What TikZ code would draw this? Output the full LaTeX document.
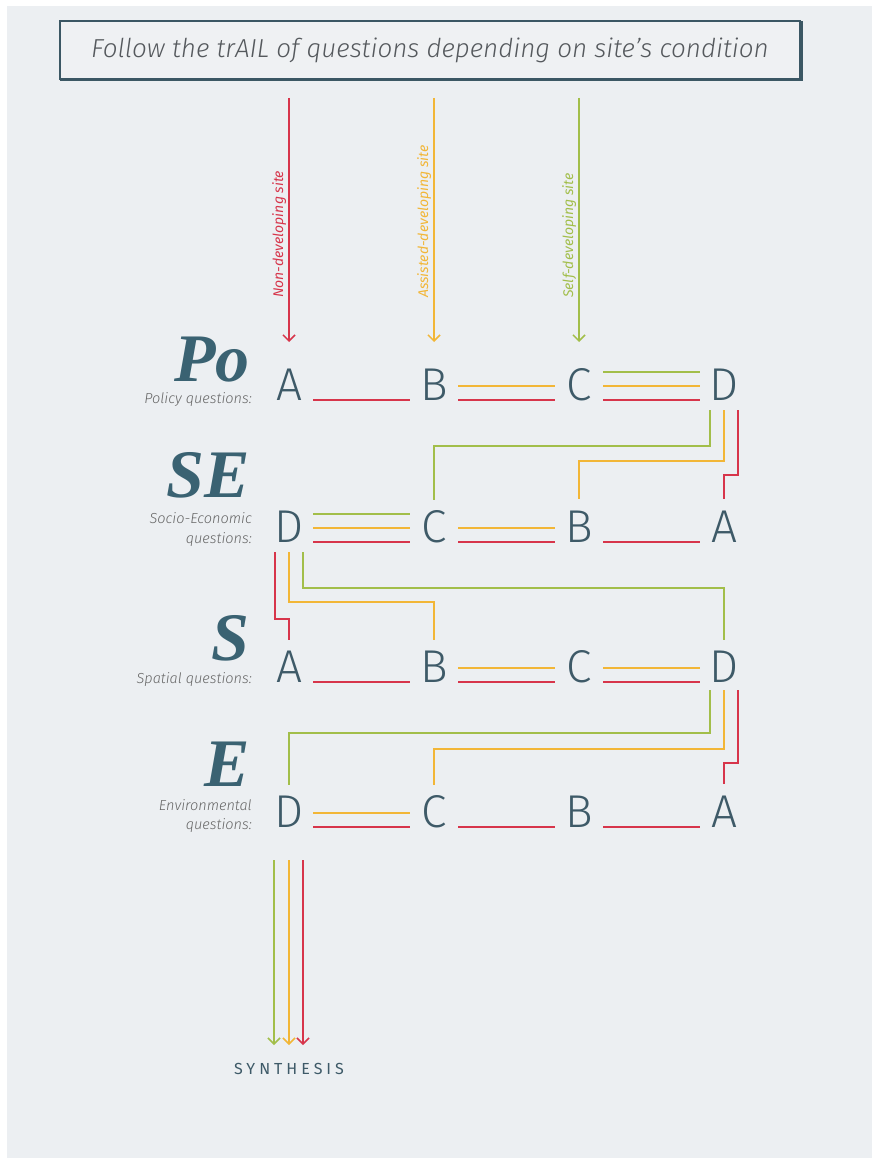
\documentclass[tikz,border=0pt]{standalone}
\usepackage{fontspec}
\usetikzlibrary{calc,arrows.meta}
\setmainfont{Fira Sans Light}[ItalicFont={Fira Sans Light Italic}]
\newfontfamily\serifbig{Liberation Serif}
\newfontfamily\regsans{Fira Sans}
\newfontfamily\synfont{Fira Sans}[LetterSpace=25]
\definecolor{bg}{HTML}{ECEFF2}
\definecolor{boxbg}{HTML}{EFF1F3}
\definecolor{cred}{HTML}{D7354B}
\definecolor{cyel}{HTML}{F2B637}
\definecolor{cgrn}{HTML}{A2BE4A}
\definecolor{letter}{HTML}{3E5A68}
\definecolor{big}{HTML}{3A6272}
\definecolor{small}{HTML}{666666}
\definecolor{frame}{HTML}{3B5764}
\definecolor{ttl}{HTML}{55595D}
\tikzset{
  lt/.style={font=\fontsize{46}{46}\selectfont, text=letter, inner sep=0pt, anchor=center},
  biglab/.style={font=\serifbig\bfseries\itshape\fontsize{68}{68}\selectfont, text=big, inner sep=0pt, text depth=0pt, anchor=base east},
  smalllab/.style={font=\itshape\fontsize{14.5}{14.5}\selectfont, text=small, inner sep=0pt, anchor=base east},
  sitelab/.style={font=\regsans\itshape\fontsize{14}{14}\selectfont, inner sep=0pt, rotate=90, anchor=base west},
  conn/.style={line width=1.7pt},
  rd/.style={conn, draw=cred},
  yl/.style={conn, draw=cyel},
  gn/.style={conn, draw=cgrn},
  arr/.style={-{Straight Barb[length=6pt,width=12pt,line width=1.5pt]}, line width=1.5pt},
}
\newcommand{\hsg}[4]{\draw[#1] ($(#2)+(24,#4)$) -- ($(#3)+(-24,#4)$);}
\begin{document}
\begin{tikzpicture}[x=1pt,y=-1pt]
\useasboundingbox (0,0) rectangle (872,1158);
\fill[white] (0,0) rectangle (872,1158);
\fill[bg] (7,6) rectangle (872,1158);

% title box
\node[draw=frame, line width=1.5pt, fill=boxbg, minimum width=740pt, minimum height=58pt, inner sep=0pt,
      font=\itshape\fontsize{26}{26}\selectfont, text=ttl] (title) at (430,50)
      {Follow the trAIL of questions depending on site's condition};
\draw[frame, line width=3.5pt] ($(title.south west)+(1,0)$) -- (title.south east) -- ($(title.north east)+(0,1)$);

% row letters
\node[lt] (PoA) at (289,385) {A};
\node[lt] (PoB) at (434,385) {B};
\node[lt] (PoC) at (579,385) {C};
\node[lt] (PoD) at (724,385) {D};
\node[lt] (SED) at (289,527) {D};
\node[lt] (SEC) at (434,527) {C};
\node[lt] (SEB) at (579,527) {B};
\node[lt] (SEA) at (724,527) {A};
\node[lt] (SA) at (289,667) {A};
\node[lt] (SB) at (434,667) {B};
\node[lt] (SC) at (579,667) {C};
\node[lt] (SD) at (724,667) {D};
\node[lt] (ED) at (289,812) {D};
\node[lt] (EC) at (434,812) {C};
\node[lt] (EB) at (579,812) {B};
\node[lt] (EA) at (724,812) {A};

% left labels
\node[biglab] (lPo) at (250,381) {Po};
\node[smalllab] (sPo) at (252,403) {Policy questions:};
\node[biglab] (lSE) at (250,497) {SE};
\node[smalllab] (sSE1) at (252,523) {Socio-Economic};
\node[smalllab] (sSE2) at (252,543) {questions:};
\node[biglab] (lS) at (250,660) {S};
\node[smalllab] (sS) at (252,683) {Spatial questions:};
\node[biglab] (lE) at (250,786) {E};
\node[smalllab] (sE1) at (252,810) {Environmental};
\node[smalllab] (sE2) at (252,829) {questions:};

% entry arrows
\coordinate (topA) at (289,98);
\coordinate (topB) at (434,98);
\coordinate (topC) at (579,98);
\draw[arr, cred] (topA) -- ($(PoA)+(0,-43)$);
\draw[arr, cyel] (topB) -- ($(PoB)+(0,-43)$);
\draw[arr, cgrn] (topC) -- ($(PoC)+(0,-43)$);
\node[sitelab, text=cred] (labA) at (283,298) {Non-developing site};
\node[sitelab, text=cyel] (labB) at (428,298) {Assisted-developing site};
\node[sitelab, text=cgrn] (labC) at (573,298) {Self-developing site};

% Po row
\hsg{rd}{PoA}{PoB}{15}
\hsg{yl}{PoB}{PoC}{1}
\hsg{rd}{PoB}{PoC}{15}
\hsg{gn}{PoC}{PoD}{-13}
\hsg{yl}{PoC}{PoD}{1}
\hsg{rd}{PoC}{PoD}{15}
% Po -> SE
\draw[gn] ($(PoD)+(-14,25)$) |- ($(SEC)+(0,-81)$) -- ($(SEC)+(0,-27)$);
\draw[yl] ($(PoD)+(0,25)$) |- ($(SEB)+(0,-66)$) -- ($(SEB)+(0,-28)$);
\draw[rd] ($(PoD)+(14,25)$) |- ($(SEA)+(0,-52)$) -- ($(SEA)+(0,-28)$);

% SE row
\hsg{gn}{SED}{SEC}{-13}
\hsg{yl}{SED}{SEC}{1}
\hsg{rd}{SED}{SEC}{15}
\hsg{yl}{SEC}{SEB}{1}
\hsg{rd}{SEC}{SEB}{15}
\hsg{rd}{SEB}{SEA}{15}
% SE -> S
\draw[rd] ($(SED)+(-14,25)$) |- ($(SA)+(0,-48)$) -- ($(SA)+(0,-27)$);
\draw[yl] ($(SED)+(0,25)$) |- ($(SB)+(0,-65)$) -- ($(SB)+(0,-27)$);
\draw[gn] ($(SED)+(14,25)$) |- ($(SD)+(0,-79)$) -- ($(SD)+(0,-27)$);

% S row
\hsg{rd}{SA}{SB}{15}
\hsg{yl}{SB}{SC}{1}
\hsg{rd}{SB}{SC}{15}
\hsg{yl}{SC}{SD}{1}
\hsg{rd}{SC}{SD}{15}
% S -> E
\draw[gn] ($(SD)+(-14,23)$) |- ($(ED)+(0,-79)$) -- ($(ED)+(0,-27)$);
\draw[yl] ($(SD)+(0,23)$) |- ($(EC)+(0,-63)$) -- ($(EC)+(0,-27)$);
\draw[rd] ($(SD)+(14,23)$) |- ($(EA)+(0,-49)$) -- ($(EA)+(0,-28)$);

% E row
\hsg{yl}{ED}{EC}{1}
\hsg{rd}{ED}{EC}{15}
\hsg{rd}{EC}{EB}{15}
\hsg{rd}{EB}{EA}{15}

% synthesis
\node[font=\synfont\fontsize{16}{16}\selectfont, text=letter, inner sep=0pt] (syn) at (289,1069) {SYNTHESIS};
\draw[arr, cgrn] ($(ED)+(-15,48)$) -- ($(syn)+(-15,-24)$);
\draw[arr, cyel] ($(ED)+(0,48)$) -- ($(syn)+(0,-24)$);
\draw[arr, cred] ($(ED)+(14,48)$) -- ($(syn)+(14,-24)$);
\end{tikzpicture}
\end{document}
